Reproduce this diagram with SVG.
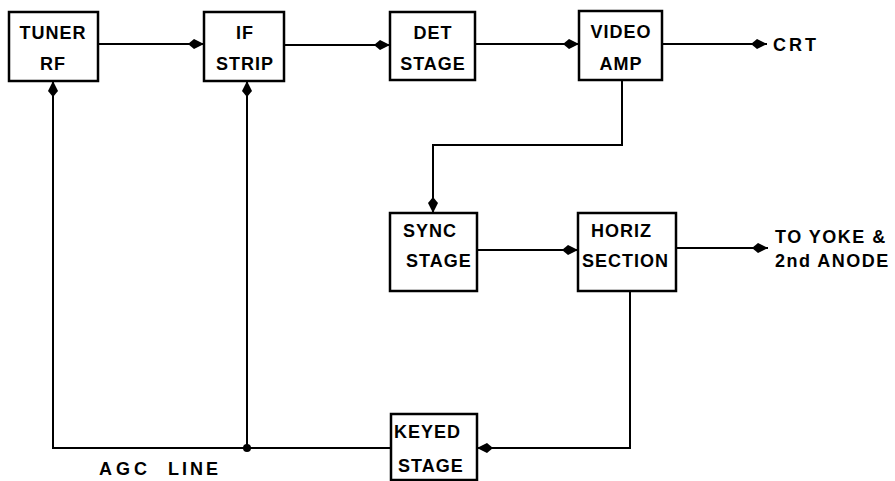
<svg xmlns="http://www.w3.org/2000/svg" width="895" height="481" viewBox="0 0 895 481">
<style>
.box{fill:#fff;stroke:#000;stroke-width:2.5}
.t{font-family:"Liberation Sans",Arial,sans-serif;font-size:18px;font-weight:bold;fill:#000;letter-spacing:1px}
.c{text-anchor:middle}
.w{letter-spacing:3px}
.ln{fill:none;stroke:#000;stroke-width:2}
</style>
<defs>
<marker id="ah" markerWidth="18" markerHeight="12" refX="17" refY="6" orient="auto" markerUnits="userSpaceOnUse">
<path d="M17,6 L7,1 L1,6 L7,11 Z" fill="#000"/>
</marker>
</defs>
<rect width="895" height="481" fill="#fff"/>
<g id="connectors">
<line class="ln" x1="98" y1="44" x2="204" y2="44" marker-end="url(#ah)"/>
<line class="ln" x1="284" y1="45" x2="390" y2="45" marker-end="url(#ah)"/>
<line class="ln" x1="475" y1="44" x2="579" y2="44" marker-end="url(#ah)"/>
<line class="ln" x1="662" y1="44" x2="767" y2="44" marker-end="url(#ah)"/>
<polyline class="ln" points="622,80 622,145 433,145 433,213" marker-end="url(#ah)"/>
<line class="ln" x1="477" y1="250" x2="578" y2="250" marker-end="url(#ah)"/>
<line class="ln" x1="676" y1="248" x2="768" y2="248" marker-end="url(#ah)"/>
<polyline class="ln" points="630,291 630,448 477,448" marker-end="url(#ah)"/>
<polyline class="ln" points="391,448 53,448 53,81" marker-end="url(#ah)"/>
<line class="ln" x1="247" y1="448" x2="247" y2="81" marker-end="url(#ah)"/>
<circle cx="247" cy="448" r="4" fill="#000"/>
</g>
<g id="tuner">
<rect class="box" x="9" y="12" width="89" height="69"/>
<text class="t c" x="53" y="39">TUNER</text>
<text class="t c" x="53" y="70">RF</text>
</g>
<g id="if">
<rect class="box" x="204" y="12" width="80" height="69"/>
<text class="t c" x="245" y="39">IF</text>
<text class="t c" x="245" y="70">STRIP</text>
</g>
<g id="det">
<rect class="box" x="390" y="12" width="85" height="68"/>
<text class="t c" x="433" y="39">DET</text>
<text class="t c" x="433" y="70">STAGE</text>
</g>
<g id="video">
<rect class="box" x="579" y="11" width="83" height="69"/>
<text class="t c" x="621" y="38">VIDEO</text>
<text class="t c" x="621" y="70">AMP</text>
</g>
<g id="crt">
<text class="t w" x="773" y="51">CRT</text>
</g>
<g id="sync">
<rect class="box" x="390" y="213" width="87" height="78"/>
<text class="t" x="403" y="237">SYNC</text>
<text class="t" x="406" y="267">STAGE</text>
</g>
<g id="horiz">
<rect class="box" x="578" y="213" width="98" height="78"/>
<text class="t" x="591" y="237">HORIZ</text>
<text class="t" x="582" y="267">SECTION</text>
</g>
<g id="yoke">
<text class="t" x="775" y="243" style="letter-spacing:1.5px">TO YOKE &amp;</text>
<text class="t" x="775" y="267" style="letter-spacing:1.5px">2nd ANODE</text>
</g>
<g id="keyed">
<rect class="box" x="391" y="414" width="86" height="66"/>
<text class="t" x="394" y="438">KEYED</text>
<text class="t" x="398" y="472">STAGE</text>
</g>
<g id="agc">
<text class="t" x="99" y="475" style="letter-spacing:4px">AGC</text>
<text class="t" x="168" y="475" style="letter-spacing:3px">LINE</text>
</g>
</svg>
